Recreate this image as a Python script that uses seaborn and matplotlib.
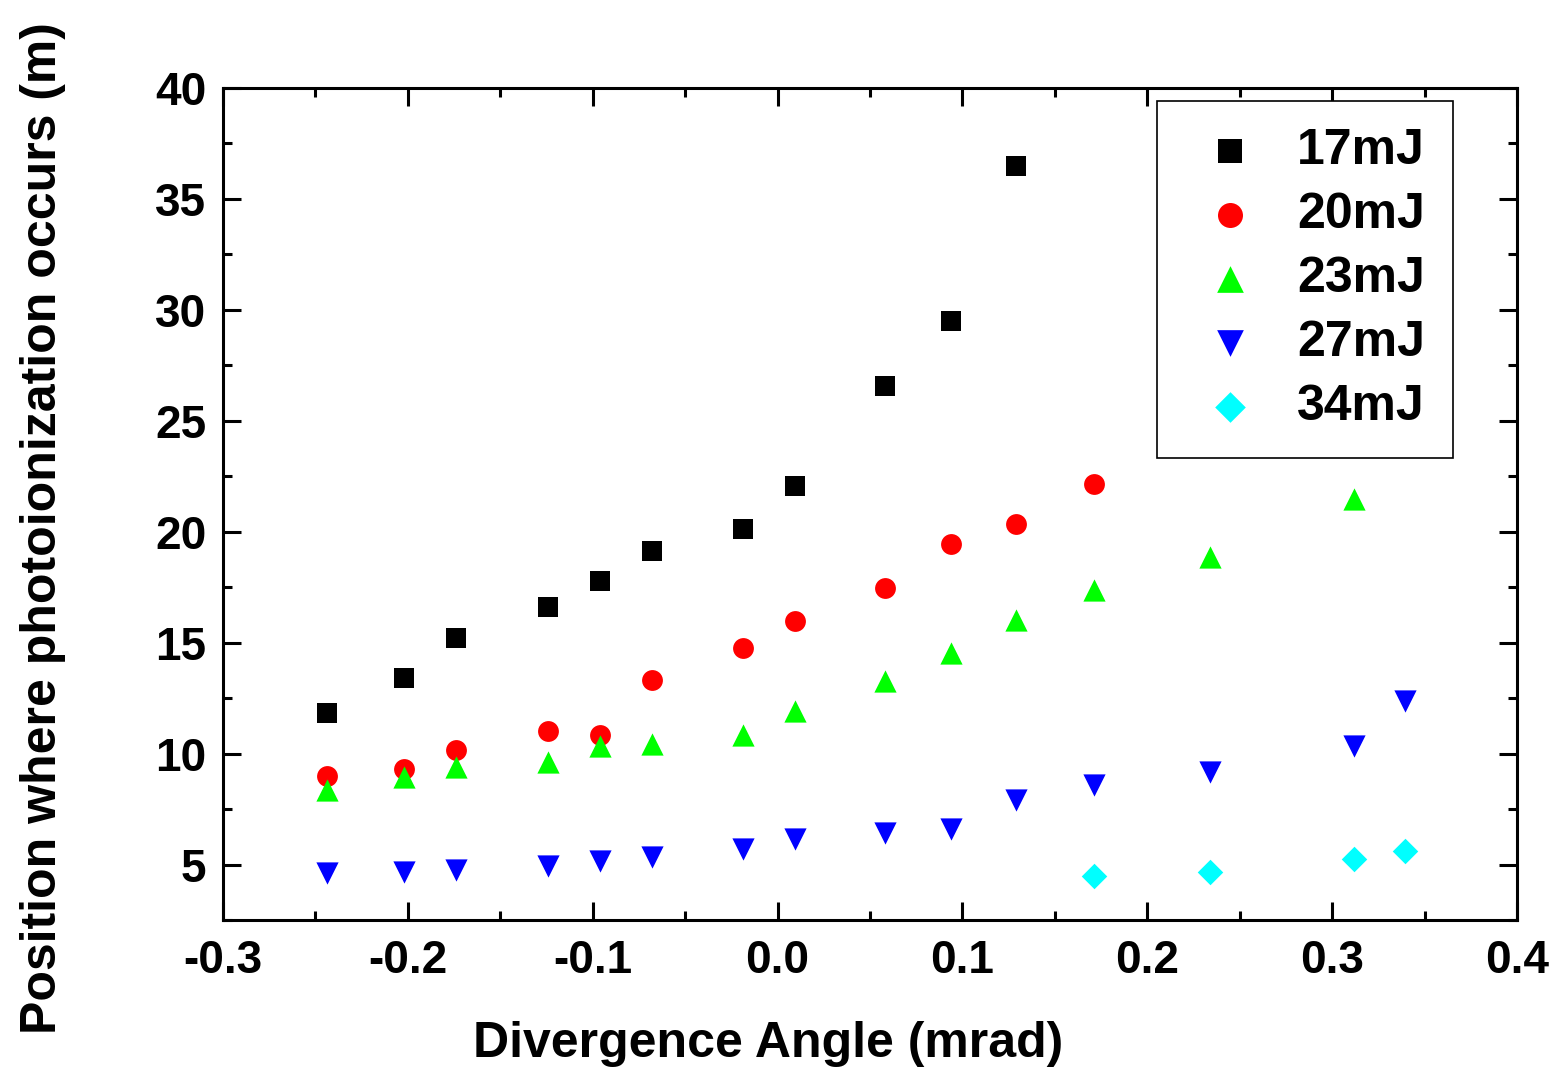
import numpy as np
import pandas as pd
import matplotlib
matplotlib.use("Agg")
import matplotlib.pyplot as plt
import seaborn as sns
from matplotlib.ticker import MultipleLocator, FormatStrFormatter

x17 = [-0.2437, -0.2021, -0.174, -0.1242, -0.096, -0.068, -0.0187, 0.0094, 0.0581, 0.0938, 0.129]
y17 = [11.85, 13.42, 15.23, 16.62, 17.79, 19.14, 20.14, 22.07, 26.58, 29.5, 36.49]
x20 = [-0.2437, -0.2021, -0.174, -0.1242, -0.096, -0.068, -0.0187, 0.0094, 0.0581, 0.0938, 0.129, 0.1712]
y20 = [9.01, 9.32, 10.18, 11.04, 10.86, 13.33, 14.77, 15.99, 17.48, 19.46, 20.36, 22.16]
x23 = [-0.2437, -0.2021, -0.174, -0.1242, -0.096, -0.068, -0.0187, 0.0094, 0.0581, 0.0938, 0.129, 0.1712, 0.2339, 0.3118]
y23 = [8.38, 8.96, 9.41, 9.64, 10.32, 10.45, 10.86, 11.94, 13.29, 14.55, 16.04, 17.39, 18.87, 21.49]
x27 = [-0.2437, -0.2021, -0.174, -0.1242, -0.096, -0.068, -0.0187, 0.0094, 0.0581, 0.0938, 0.129, 0.1712, 0.2339, 0.3118, 0.3394]
y27 = [4.64, 4.68, 4.77, 4.95, 5.14, 5.32, 5.68, 6.13, 6.44, 6.58, 7.93, 8.6, 9.19, 10.36, 12.39]
x34 = [0.1712, 0.2339, 0.3118, 0.3394]
y34 = [4.46, 4.68, 5.27, 5.59]

labels = ["17mJ", "20mJ", "23mJ", "27mJ", "34mJ"]
xs = [x17, x20, x23, x27, x34]
ys = [y17, y20, y23, y27, y34]

rows = []
for lab, xx, yy in zip(labels, xs, ys):
    for a, b in zip(xx, yy):
        rows.append({"angle": a, "pos": b, "energy": lab})
df = pd.DataFrame(rows)

sns.set_style("white")
plt.rcParams['font.family'] = ['Liberation Sans', 'DejaVu Sans']
plt.rcParams['font.weight'] = 'bold'
plt.rcParams['text.color'] = 'black'
plt.rcParams['axes.labelcolor'] = 'black'
plt.rcParams['xtick.color'] = 'black'
plt.rcParams['ytick.color'] = 'black'

fig = plt.figure(figsize=(15.56, 10.69), dpi=100)
ax = fig.add_axes([0.1433, 0.1394, 0.975 - 0.1433, 0.9177 - 0.1394])

palette = {"17mJ": "black", "20mJ": "red", "23mJ": "#00ff00", "27mJ": "blue", "34mJ": "cyan"}
markers = {"17mJ": "s", "20mJ": "o", "23mJ": "^", "27mJ": "v", "34mJ": "D"}
sizes_pt = {"17mJ": 14, "20mJ": 15, "23mJ": 16, "27mJ": 16, "34mJ": 13}

for lab in labels:
    sub = df[df.energy == lab]
    sns.scatterplot(data=sub, x="angle", y="pos", color=palette[lab], marker=markers[lab],
                    s=sizes_pt[lab] ** 2, linewidth=0, ax=ax, label=lab, zorder=3)

ax.set_xlim(-0.3, 0.4)
ax.set_ylim(2.5, 40)
ax.xaxis.set_major_locator(MultipleLocator(0.1))
ax.xaxis.set_minor_locator(MultipleLocator(0.05))
ax.xaxis.set_major_formatter(FormatStrFormatter('%.1f'))
ax.set_yticks([5, 10, 15, 20, 25, 30, 35, 40])
ax.yaxis.set_minor_locator(MultipleLocator(2.5))
ax.tick_params(which='both', direction='in', top=True, right=True, left=True, bottom=True,
               width=2.2, colors='black', labelsize=33)
ax.tick_params(which='major', length=13)
ax.tick_params(axis='x', which='major', pad=14)
ax.tick_params(axis='y', which='major', pad=12)
ax.tick_params(which='minor', length=6.5)
for lbl in ax.get_xticklabels() + ax.get_yticklabels():
    lbl.set_fontweight('bold')
for sp in ax.spines.values():
    sp.set_linewidth(2.2)
    sp.set_color('black')

ax.set_xlabel("Divergence Angle (mrad)", fontsize=36, fontweight='bold', labelpad=27, x=0.421)
ax.set_ylabel("Position where photoionization occurs (m)", fontsize=36, fontweight='bold',
              labelpad=64, y=0.471)

handles, labs = ax.get_legend_handles_labels()
leg = ax.legend(handles, labs, loc='upper left', bbox_to_anchor=(0.7218, 0.9844),
                prop={'family': 'Liberation Sans', 'weight': 'bold', 'size': 36},
                frameon=True, fancybox=False, shadow=False, edgecolor='black',
                labelspacing=0.36, handletextpad=0.45, borderpad=0.55, handlelength=1.8,
                borderaxespad=0, markerscale=1.2)
leg.get_frame().set_linewidth(1.2)
leg.get_frame().set_alpha(1)

fig.savefig("out.png", dpi=100)
